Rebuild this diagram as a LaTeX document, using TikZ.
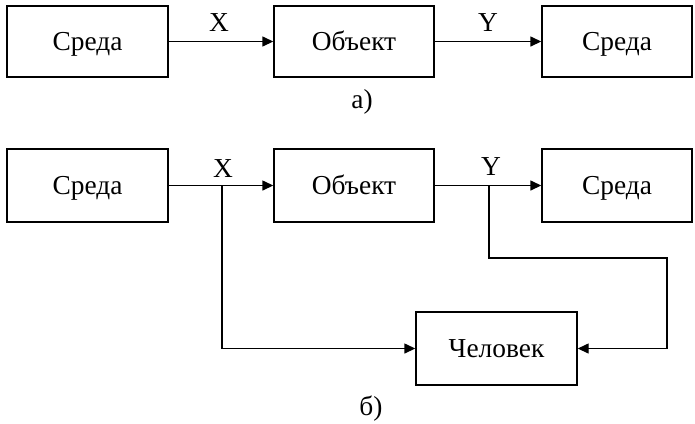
\documentclass[tikz,border=0pt]{standalone}
\usepackage{fontspec}
\setmainfont{Liberation Serif}
\usetikzlibrary{arrows.meta}
\begin{document}
\begin{tikzpicture}[x=1bp,y=-1bp,
  txt/.style={font=\fontsize{27.5}{30}\selectfont,text height=18bp,text depth=0bp},
  blk/.style={txt,draw,line width=1.4bp,rectangle,minimum height=71bp,inner sep=0pt},
  lbl/.style={txt,inner sep=0pt},
  conn/.style={line width=1.4bp},
  arr/.style={conn,-{Triangle[length=11bp,width=10bp]}}]
\useasboundingbox (0,0) rectangle (695,423);
% a)
\node[blk,minimum width=161bp] (a1) at (87.5,41.5) {Среда};
\node[blk,minimum width=160bp] (a2) at (354,41.5) {Объект};
\node[blk,minimum width=150bp] (a3) at (617,41.5) {Среда};
\draw[arr] (a1.east) -- (a2.west);
\draw[arr] (a2.east) -- (a3.west);
\node[lbl] (ax) at (219,22) {X};
\node[lbl] (ay) at (488,22) {Y};
\node[lbl] (la) at (362,99) {а)};
% б)
\node[blk,minimum width=161bp,minimum height=73bp] (b1) at (87.5,185.5) {Среда};
\node[blk,minimum width=160bp,minimum height=73bp] (b2) at (354,185.5) {Объект};
\node[blk,minimum width=150bp,minimum height=73bp] (b3) at (617,185.5) {Среда};
\node[blk,minimum width=161bp,minimum height=73bp] (h) at (496.5,348.5) {Человек};
\draw[arr] (b1.east) -- (b2.west);
\draw[arr] (b2.east) -- (b3.west);
\coordinate (jx) at (222,185.5);
\coordinate (jy) at (489,185.5);
\coordinate (c1) at (489,258);
\coordinate (c2) at (667,258);
\draw[arr] (jx) |- (h.west);
\draw[arr] (jy) -- (c1) -- (c2) |- (h.east);
\node[lbl] (bx) at (223,168) {X};
\node[lbl] (by) at (491,166) {Y};
\node[lbl] (lb) at (371,406) {б)};
\end{tikzpicture}
\end{document}
